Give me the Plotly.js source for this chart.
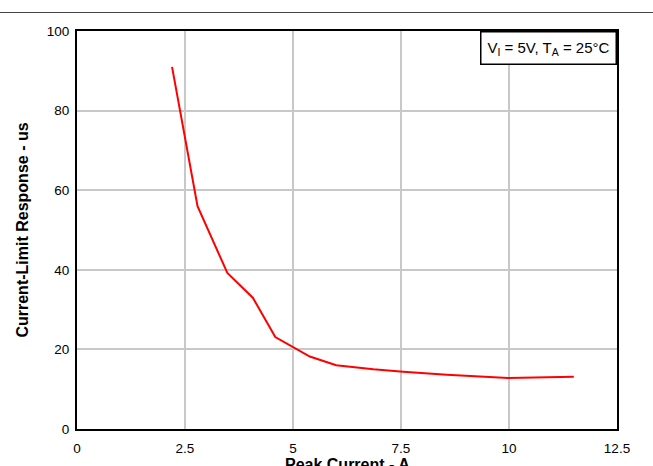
<!DOCTYPE html>
<html>
<head>
<meta charset="utf-8">
<script src="https://cdn.plot.ly/plotly-3.0.1.min.js"></script>
<style>
html,body{margin:0;padding:0;background:#fff;}
#topline{position:absolute;left:0;top:12px;width:653px;height:1px;background:#444;}
#chart{position:absolute;left:0;top:0;width:653px;height:466px;}
</style>
</head>
<body>
<div id="chart"></div>
<div id="topline"></div>
<script>
const peakCurrent = [2.20, 2.79, 3.48, 4.07, 4.59, 5.39, 6.00, 6.86, 7.55, 8.56, 9.98, 11.50];
const responseUs  = [91.0, 56.0, 39.2, 33.0, 23.1, 18.2, 16.0, 15.0, 14.4, 13.6, 12.8, 13.1];
const xTicks = [0, 2.5, 5, 7.5, 10, 12.5];
const xTickText = ['0', '2.5', '5', '7.5', '10', '12.5'];
const yTicks = [0, 20, 40, 60, 80, 100];

const trace = {
  x: peakCurrent, y: responseUs, type: 'scatter', mode: 'lines',
  line: {color: '#ff0000', width: 2}, hoverinfo: 'skip'
};
const font = {family: 'Liberation Sans, Arial, sans-serif', size: 13, color: '#000'};
const layout = {
  width: 653, height: 466,
  margin: {l: 77, r: 36, t: 31, b: 37},
  paper_bgcolor: '#fff', plot_bgcolor: '#fff',
  font: font, showlegend: false,
  xaxis: {
    range: [0, 12.5], tickvals: xTicks, ticktext: xTickText,
    showgrid: true, gridcolor: '#c8c8c8', gridwidth: 2,
    showline: true, linecolor: '#000', linewidth: 2, mirror: true,
    zeroline: false, ticks: '', ticklen: 0, ticklabelstandoff: 6,
    tickfont: {family: font.family, size: 13.5, color: '#000'}
  },
  yaxis: {
    range: [0, 100], tickvals: yTicks,
    showgrid: true, gridcolor: '#c8c8c8', gridwidth: 2,
    showline: true, linecolor: '#000', linewidth: 2, mirror: true,
    zeroline: false, ticks: '', ticklen: 0, ticklabelstandoff: 3,
    tickfont: {family: font.family, size: 13.5, color: '#000'},
    title: {text: 'Current-Limit Response - us', font: {family: font.family, size: 16, color: '#000', weight: 'bold'}, standoff: 14}
  },
  annotations: [{
    xref: 'paper', yref: 'paper', x: 1, y: 1, xanchor: 'right', yanchor: 'top',
    text: 'V<sub>I</sub> = 5V, T<sub>A</sub> = 25°C', showarrow: false,
    font: {family: font.family, size: 15, color: '#000'},
    bgcolor: '#fff', bordercolor: '#000', borderwidth: 1.5, borderpad: 6
  }, {
    xref: 'paper', yref: 'paper', x: 0.5, y: -0.062, xanchor: 'center', yanchor: 'top',
    text: '<b>Peak Current - A</b>', showarrow: false,
    font: {family: font.family, size: 16, color: '#000'}
  }]
};
Plotly.newPlot('chart', [trace], layout, {displayModeBar: false, staticPlot: true});
</script>
</body>
</html>
